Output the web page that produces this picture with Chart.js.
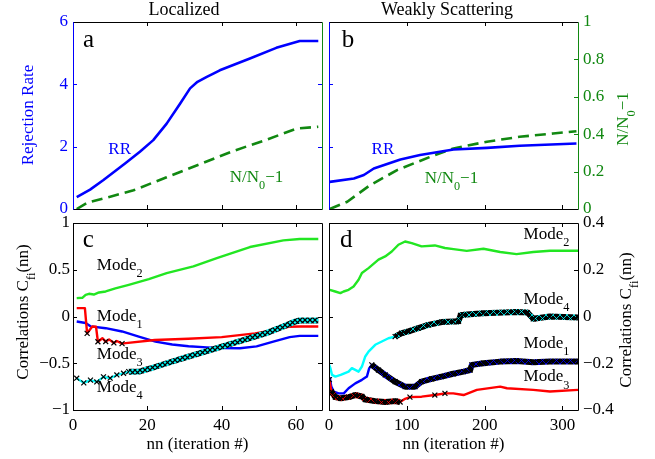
<!DOCTYPE html>
<html><head><meta charset="utf-8">
<script src="https://cdn.jsdelivr.net/npm/chart.js@4.4.1/dist/chart.umd.min.js"></script>
<style>
body{margin:0;background:#fff}
#wrap{position:relative;width:655px;height:459px;background:#fff}
#wrap canvas{position:absolute;left:0;top:0}
</style></head>
<body><div id="wrap">
<canvas id="ca" width="655" height="459"></canvas>
<canvas id="cb" width="655" height="459"></canvas>
<canvas id="cc" width="655" height="459"></canvas>
<canvas id="cd" width="655" height="459"></canvas>
</div>
<script>
// ---------------- DATA ----------------
// Panel a (Localized): rejection rate and N/N0-1
const nnRRa = [1, 4.6, 8.2, 14, 18, 21.6, 25.2, 28.8, 31.5, 33.5, 36, 37.5, 39.5, 47.6, 54.7, 61, 66];
const rrA   = [0.38, 0.62, 0.93, 1.46, 1.84, 2.21, 2.74, 3.38, 3.87, 4.08, 4.24, 4.33, 4.45, 4.83, 5.17, 5.39, 5.39];
const nnNa  = [1, 4, 10, 16.3, 25.2, 34.2, 43.1, 52, 60.1, 66];
const nNa   = [0.0, 0.035, 0.066, 0.10, 0.17, 0.24, 0.31, 0.37, 0.43, 0.44];
// Panel b (Weakly Scattering)
const nnRRb = [1, 32, 44.8, 57.6, 91.8, 117, 160, 203, 245, 318];
const rrB   = [0.87, 0.98, 1.09, 1.30, 1.59, 1.73, 1.91, 1.96, 2.03, 2.10];
const nnNb  = [1, 23.5, 53, 87.5, 130, 160, 203, 245, 288, 318];
const nNb   = [0.0, 0.039, 0.128, 0.208, 0.279, 0.324, 0.36, 0.386, 0.404, 0.416];
// Panel c (Localized correlations)
const nnM1c = [1, 3.4, 4.7, 8.8, 13.2, 17.7, 22.2, 26.7, 31.1, 36, 40.4, 44.9, 49.4, 53.9, 58.3, 61, 66];
const m1c   = [-0.054, -0.07, -0.105, -0.125, -0.16, -0.215, -0.268, -0.3, -0.318, -0.33, -0.338, -0.34, -0.32, -0.268, -0.221, -0.207, -0.207];
const nnM2c = [1, 2.5, 3.4, 4.3, 5.6, 7, 8.8, 11.4, 15, 20.4, 25.2, 32.4, 38.7, 47.6, 56.6, 61, 66];
const m2c   = [0.197, 0.2, 0.232, 0.243, 0.235, 0.257, 0.268, 0.3, 0.339, 0.4, 0.464, 0.536, 0.625, 0.743, 0.814, 0.829, 0.829];
const nnM3c = [1, 3.2, 3.8, 5.2, 6.2, 6.7, 7.9, 8.8, 9.7, 11, 11.8, 13.2, 14.2, 22, 31, 40, 49, 54, 58, 61, 66];
const m3c   = [0.09, 0.09, -0.18, -0.107, -0.11, -0.27, -0.232, -0.268, -0.245, -0.283, -0.262, -0.29, -0.285, -0.252, -0.238, -0.221, -0.18, -0.145, -0.11, -0.107, -0.107];
const m3cMarks = [3.8, 6.7, 8.8, 11, 13.2];
const nnM4c = [1, 2.9, 4.7, 6.4, 8.2, 10, 11.8, 13.6, 15, 18, 20.8, 25.2, 29.7, 34.2, 38.7, 43, 47.6, 52, 56.6, 59.3, 61, 66];
const m4c   = [-0.66, -0.71, -0.68, -0.70, -0.645, -0.66, -0.625, -0.607, -0.59, -0.588, -0.556, -0.5, -0.446, -0.393, -0.339, -0.286, -0.232, -0.178, -0.107, -0.061, -0.043, -0.043];
const m4cBand = [15, 66];
// Panel d (Weakly scattering correlations)
const nnM2d = [1, 8, 14.6, 18.8, 25.2, 31.6, 38, 42.3, 50.8, 63.6, 72.2, 80.7, 89.2, 97.8, 106.3, 119, 136, 149, 160, 177, 198.5, 220, 241, 262.5, 284, 320];
const m2d   = [0.114, 0.107, 0.1, 0.107, 0.114, 0.128, 0.157, 0.186, 0.207, 0.243, 0.257, 0.278, 0.307, 0.321, 0.314, 0.3, 0.304, 0.293, 0.288, 0.281, 0.29, 0.276, 0.267, 0.276, 0.281, 0.281];
const nnM4d = [0, 1.8, 3.9, 8.2, 15, 25.2, 29.4, 38, 42.3, 46.6, 50.8, 59.4, 67.9, 76.4, 85, 93.5, 102, 114.9, 127.7, 144.7, 159.7, 166.5, 169, 172.9, 198.5, 241, 255, 262.5, 284, 320];
const m4d   = [-0.205, -0.221, -0.25, -0.257, -0.25, -0.236, -0.221, -0.236, -0.214, -0.171, -0.15, -0.121, -0.107, -0.093, -0.086, -0.071, -0.064, -0.05, -0.036, -0.024, -0.021, -0.021, 0.005, 0.007, 0.014, 0.019, 0.017, -0.01, 0, -0.004];
const m4dBand = [85, 320];
const nnM1d = [1, 3, 6, 12.4, 19, 25.2, 33.8, 42.3, 48.7, 51.7, 55, 63.6, 72.2, 85, 97.8, 110.6, 119, 131.9, 144.7, 159.7, 172.9, 181.4, 183.6, 198.5, 220, 241, 262.5, 284, 320];
const m1d   = [-0.26, -0.3, -0.321, -0.329, -0.329, -0.307, -0.286, -0.271, -0.257, -0.221, -0.207, -0.229, -0.25, -0.279, -0.3, -0.3, -0.279, -0.267, -0.257, -0.245, -0.236, -0.229, -0.207, -0.2, -0.193, -0.19, -0.196, -0.193, -0.193];
const m1dBand = [55, 320];
const nnM3d = [0.5, 3, 8.2, 15, 25.2, 33.8, 42.3, 46.6, 59.4, 72.2, 85, 91.4, 97.8, 104, 119, 136, 149, 159.7, 172.9, 190, 220, 228.7, 262.5, 284, 320];
const m3d   = [-0.27, -0.321, -0.345, -0.35, -0.345, -0.336, -0.342, -0.355, -0.362, -0.366, -0.362, -0.366, -0.352, -0.345, -0.343, -0.336, -0.329, -0.329, -0.336, -0.314, -0.3, -0.307, -0.314, -0.321, -0.314];
const m3dBand = [3, 91.4];
const m3dMarks = [0.5, 3, 8.2, 15, 25.2, 33.8, 42.3, 46.6, 59.4, 72.2, 85, 91.4, 104, 136, 149];

// tick values and labels
const xTicksL = [0, 20, 40, 60];       const xLabelsL = ['0', '20', '40', '60'];
const xTicksW = [0, 100, 200, 300];    const xLabelsW = ['0', '100', '200', '300'];
const yTicksRR = [0, 2, 4, 6];         const yLabelsRR = ['0', '2', '4', '6'];
const yTicksN = [0, 0.2, 0.4, 0.6, 0.8, 1]; const yLabelsN = ['0', '0.2', '0.4', '0.6', '0.8', '1'];
const yTicksCL = [-1, -0.5, 0, 0.5, 1];     const yLabelsCL = ['\u22121', '\u22120.5', '0', '0.5', '1'];
const yTicksCW = [-0.4, -0.2, 0, 0.2, 0.4]; const yLabelsCW = ['\u22120.4', '\u22120.2', '0', '0.2', '0.4'];

// ---------------- STYLE / HELPERS ----------------
const SERIF = '"Liberation Serif","Times New Roman",serif';
const W = 655, H = 459, TL = 4;
const BLUE = '#0000ff', DGREEN = '#118811', LIME = '#22e622', RED = '#ff0000', CYAN = '#00ffff';
Chart.defaults.font.family = SERIF;

function pts(xs, ys) { return xs.map((x, i) => ({x, y: ys[i]})); }
function inRange(xs, ys, r) { return pts(xs, ys).filter(p => p.x >= r[0] && p.x <= r[1]); }
function pick(xs, ys, list) { return pts(xs, ys).filter(p => list.includes(p.x)); }

function xPattern(bg, fg, size, lw) {
  const c = document.createElement('canvas'); c.width = c.height = size;
  const g = c.getContext('2d');
  g.fillStyle = bg; g.fillRect(0, 0, size, size);
  g.strokeStyle = fg; g.lineWidth = lw;
  g.beginPath(); g.moveTo(0, 0); g.lineTo(size, size); g.moveTo(size, 0); g.lineTo(0, size); g.stroke();
  return g.createPattern(c, 'repeat');
}

function axis(pos, min, max, ticks, labels, show, color, pad) {
  return {
    type: 'linear', position: pos, min, max, display: true,
    grid: {display: false, drawTicks: false}, border: {display: false},
    ticks: {display: show, autoSkip: false, maxRotation: 0, minRotation: 0, padding: pad || 0,
            color: color, font: {family: SERIF, size: 17},
            callback: (v, i) => labels[i]},
    afterBuildTicks: s => { s.ticks = ticks.map(v => ({value: v})); }
  };
}
function line(data, color, width, extra) {
  return Object.assign({data, borderColor: color, borderWidth: width, pointRadius: 0, fill: false,
    tension: 0, borderJoinStyle: 'round', xAxisID: 'x', yAxisID: 'y'}, extra || {});
}
function marks(data, extra) {
  return Object.assign({data, showLine: false, pointStyle: 'crossRot', pointRadius: 3.5,
    pointBorderColor: '#000', pointBorderWidth: 1.2, pointBackgroundColor: 'rgba(0,0,0,0)',
    borderColor: '#000', xAxisID: 'x', yAxisID: 'y'}, extra || {});
}

function drawRich(ctx, parts, x, y, size, color, align, rot) {
  ctx.save(); ctx.translate(x, y); if (rot) ctx.rotate(rot);
  ctx.fillStyle = color; ctx.textBaseline = 'alphabetic';
  const segs = parts.map(p => ({t: p[0], sub: p[1] === 'sub', f: p[1] === 'sub' ? size * 0.72 : size}));
  let w = 0;
  segs.forEach(s => { ctx.font = s.f + 'px ' + SERIF; s.w = ctx.measureText(s.t).width; w += s.w; });
  let cx = align === 'center' ? -w / 2 : (align === 'right' ? -w : 0);
  segs.forEach(s => { ctx.font = s.f + 'px ' + SERIF; ctx.fillText(s.t, cx, s.sub ? size * 0.42 : 0); cx += s.w; });
  ctx.restore();
}

const decoPlugin = {
  id: 'deco',
  afterDatasetsDraw(chart, args, o) {
    const {ctx, chartArea: a} = chart;
    ctx.save(); ctx.lineWidth = 1;
    (o.ticks || []).forEach(t => {
      const s = chart.scales[t.scale];
      ctx.strokeStyle = t.color;
      t.values.forEach(v => {
        const p = Math.round(s.getPixelForValue(v)) + 0.5;
        ctx.beginPath();
        t.sides.forEach(side => {
          if (side === 'bottom') { ctx.moveTo(p, a.bottom); ctx.lineTo(p, a.bottom - TL); }
          if (side === 'top') { ctx.moveTo(p, a.top); ctx.lineTo(p, a.top + TL); }
          if (side === 'left') { ctx.moveTo(a.left, p); ctx.lineTo(a.left + TL, p); }
          if (side === 'right') { ctx.moveTo(a.right, p); ctx.lineTo(a.right - TL, p); }
        });
        ctx.stroke();
      });
    });
    const f = o.frame;
    const L = a.left + 0.5, R = a.right + 0.5, T = a.top + 0.5, B = a.bottom + 0.5;
    [[f.top, L, T, R, T], [f.bottom, L, B, R, B], [f.left, L, T, L, B], [f.right, R, T, R, B]].forEach(e => {
      ctx.strokeStyle = e[0]; ctx.beginPath(); ctx.moveTo(e[1], e[2]); ctx.lineTo(e[3], e[4]); ctx.stroke();
    });
    ctx.restore();
  },
  afterDraw(chart, args, o) {
    const ctx = chart.ctx;
    (o.texts || []).forEach(t => {
      let x = t.x, y = t.y;
      if (t.data) { x = chart.scales.x.getPixelForValue(t.x); y = chart.scales[t.ys || 'y'].getPixelForValue(t.y); }
      drawRich(ctx, t.parts, x, y, t.size || 17, t.color || '#000', t.align || 'left', t.rot || 0);
    });
  }
};

function makeChart(id, area, scales, datasets, deco) {
  const margin = {left: area.L, top: area.T, right: W - area.R, bottom: H - area.B};
  const pad = Object.assign({}, margin);
  Object.values(scales).forEach(s => {
    const size = margin[s.position];
    pad[s.position] = 0;
    s.afterFit = sc => { if (sc.isHorizontal()) sc.height = size; else sc.width = size; };
  });
  return new Chart(document.getElementById(id), {
    type: 'line',
    data: {datasets},
    options: {
      responsive: false, animation: false, events: [],
      layout: {padding: pad, autoPadding: false},
      plugins: {legend: {display: false}, tooltip: {enabled: false}, title: {display: false}, deco},
      scales
    },
    plugins: [decoPlugin]
  });
}

const NN0 = [['N/N', ''], ['0', 'sub'], ['\u22121', '']];
const CORR = [['Correlations C', ''], ['fi', 'sub'], ['(nn)', '']];
const ROT = -Math.PI / 2;

// ---------------- PANEL a ----------------
makeChart('ca', {L: 73, T: 22, R: 322, B: 209}, {
  x: axis('bottom', 0, 67, xTicksL, xLabelsL, false),
  y: axis('left', 0, 6, yTicksRR, yLabelsRR, true, BLUE, 5),
  y2: axis('right', 0, 1, yTicksN, yLabelsN, false)
}, [
  line(pts(nnRRa, rrA), BLUE, 2.6),
  line(pts(nnNa, nNa), DGREEN, 2.6, {yAxisID: 'y2', borderDash: [11, 6]})
], {
  ticks: [{scale: 'x', values: xTicksL, sides: ['bottom', 'top'], color: '#000'},
          {scale: 'y', values: yTicksRR, sides: ['left', 'right'], color: BLUE}],
  frame: {top: '#000', bottom: '#000', left: BLUE, right: DGREEN},
  texts: [
    {parts: [['Localized', '']], x: 184, y: 15, align: 'center', size: 18},
    {parts: [['Rejection Rate', '']], x: 32.5, y: 115, align: 'center', rot: ROT, color: BLUE},
    {parts: [['a', '']], x: 83, y: 46.7, size: 25},
    {parts: [['RR', '']], data: true, x: 9.5, y: 1.78, color: BLUE},
    {parts: NN0, data: true, x: 42.2, y: 0.146, ys: 'y2', color: DGREEN}
  ]
});

// ---------------- PANEL b ----------------
makeChart('cb', {L: 329, T: 22, R: 578, B: 209}, {
  x: axis('bottom', 0, 320, xTicksW, xLabelsW, false),
  y: axis('left', 0, 6, yTicksRR, yLabelsRR, false),
  y2: axis('right', 0, 1, yTicksN, yLabelsN, true, DGREEN, 5)
}, [
  line(pts(nnRRb, rrB), BLUE, 2.6),
  line(pts(nnNb, nNb), DGREEN, 2.6, {yAxisID: 'y2', borderDash: [11, 6]})
], {
  ticks: [{scale: 'x', values: xTicksW, sides: ['bottom', 'top'], color: '#000'},
          {scale: 'y', values: yTicksRR, sides: ['left'], color: BLUE},
          {scale: 'y2', values: yTicksN, sides: ['right'], color: DGREEN}],
  frame: {top: '#000', bottom: '#000', left: BLUE, right: DGREEN},
  texts: [
    {parts: [['Weakly Scattering', '']], x: 447, y: 15, align: 'center', size: 18},
    {parts: NN0, x: 628.3, y: 119, align: 'center', rot: ROT, color: DGREEN},
    {parts: [['b', '']], x: 341.7, y: 46.7, size: 25},
    {parts: [['RR', '']], data: true, x: 54.7, y: 1.78, color: BLUE},
    {parts: NN0, data: true, x: 123, y: 0.141, ys: 'y2', color: DGREEN}
  ]
});

// ---------------- PANEL c ----------------
const bandC = xPattern(CYAN, '#000', 5, 1.3);
makeChart('cc', {L: 73, T: 223, R: 322, B: 410}, {
  x: axis('bottom', 0, 67, xTicksL, xLabelsL, true, '#000', 5),
  y: axis('left', -1, 1, yTicksCL, yLabelsCL, true, '#000', 3)
}, [
  marks(pick(nnM3c, m3c, m3cMarks), {order: 0}),
  line(inRange(nnM4c, m4c, m4cBand), bandC, 6, {order: 1}),
  marks(inRange(nnM4c, m4c, [0, m4cBand[0]]), {order: 2}),
  line(pts(nnM4c, m4c), CYAN, 2.2, {order: 3}),
  line(pts(nnM3c, m3c), RED, 2.4, {order: 4}),
  line(pts(nnM1c, m1c), BLUE, 2.4, {order: 5}),
  line(pts(nnM2c, m2c), LIME, 2.4, {order: 6})
], {
  ticks: [{scale: 'x', values: xTicksL, sides: ['bottom', 'top'], color: '#000'},
          {scale: 'y', values: yTicksCL, sides: ['left', 'right'], color: '#000'}],
  frame: {top: '#000', bottom: '#000', left: '#000', right: '#000'},
  texts: [
    {parts: CORR, x: 27.5, y: 312, align: 'center', rot: ROT},
    {parts: [['nn (iteration #)', '']], x: 197.5, y: 449, align: 'center'},
    {parts: [['c', '']], x: 82.7, y: 246.7, size: 25},
    {parts: [['Mode', ''], ['2', 'sub']], data: true, x: 6.4, y: 0.5},
    {parts: [['Mode', ''], ['1', 'sub']], data: true, x: 6.4, y: -0.05},
    {parts: [['Mode', ''], ['3', 'sub']], data: true, x: 6.4, y: -0.45},
    {parts: [['Mode', ''], ['4', 'sub']], data: true, x: 6.4, y: -0.81}
  ]
});

// ---------------- PANEL d ----------------
makeChart('cd', {L: 329, T: 223, R: 578, B: 410}, {
  x: axis('bottom', 0, 320, xTicksW, xLabelsW, true, '#000', 5),
  y: axis('right', -0.4, 0.4, yTicksCW, yLabelsCW, true, '#000', 5)
}, [
  marks(pick(nnM3d, m3d, m3dMarks), {order: 0}),
  marks(inRange(nnM1d, m1d, m1dBand), {order: 0}),
  marks(inRange(nnM4d, m4d, m4dBand), {order: 0}),
  line(inRange(nnM3d, m3d, m3dBand), xPattern('#000', RED, 7, 0.8), 6, {order: 1}),
  line(inRange(nnM1d, m1d, m1dBand), xPattern('#000', BLUE, 7, 0.8), 6, {order: 1}),
  line(inRange(nnM4d, m4d, m4dBand), xPattern('#000', CYAN, 7, 0.8), 6, {order: 1}),
  line(pts(nnM3d, m3d), RED, 2.4, {order: 2}),
  line(pts(nnM1d, m1d), BLUE, 2.4, {order: 3}),
  line(pts(nnM4d, m4d), CYAN, 2.4, {order: 4}),
  line(pts(nnM2d, m2d), LIME, 2.4, {order: 5})
], {
  ticks: [{scale: 'x', values: xTicksW, sides: ['bottom', 'top'], color: '#000'},
          {scale: 'y', values: yTicksCW, sides: ['left', 'right'], color: '#000'}],
  frame: {top: '#000', bottom: '#000', left: '#000', right: '#000'},
  texts: [
    {parts: CORR, x: 630.7, y: 320, align: 'center', rot: ROT},
    {parts: [['nn (iteration #)', '']], x: 453.5, y: 449, align: 'center'},
    {parts: [['d', '']], x: 340, y: 246.7, size: 25},
    {parts: [['Mode', ''], ['2', 'sub']], data: true, x: 250, y: 0.331},
    {parts: [['Mode', ''], ['4', 'sub']], data: true, x: 250, y: 0.054},
    {parts: [['Mode', ''], ['1', 'sub']], data: true, x: 250, y: -0.136},
    {parts: [['Mode', ''], ['3', 'sub']], data: true, x: 250, y: -0.278}
  ]
});
</script>
</body></html>
